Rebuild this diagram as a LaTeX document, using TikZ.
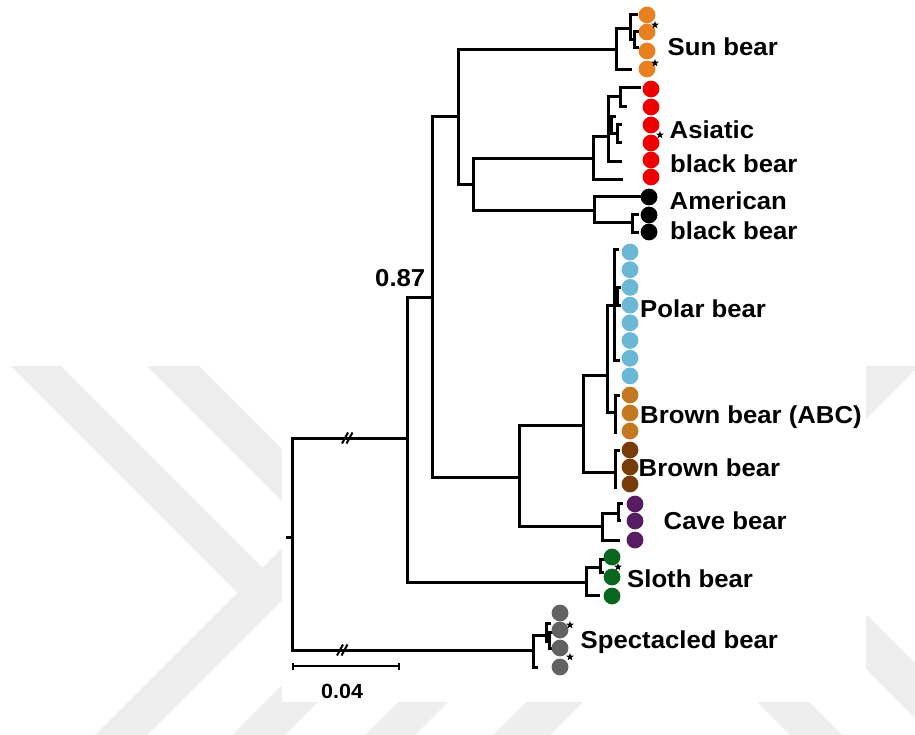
\documentclass[tikz,border=0pt]{standalone}
\usepackage{fontspec}
\setmainfont[FakeStretch=1.05]{Liberation Sans}
\usetikzlibrary{shapes.geometric}

\definecolor{wmgray}{RGB}{238,238,238}
\definecolor{sunc}{RGB}{233,128,32}
\definecolor{asiac}{RGB}{238,0,0}
\definecolor{amerc}{RGB}{0,0,0}
\definecolor{polarc}{RGB}{107,183,214}
\definecolor{abcc}{RGB}{196,120,34}
\definecolor{brownc}{RGB}{120,60,10}
\definecolor{cavec}{RGB}{88,28,98}
\definecolor{slothc}{RGB}{10,102,30}
\definecolor{spectc}{RGB}{98,98,98}

\begin{document}
\begin{tikzpicture}[x=1pt,y=-1pt,
  branch/.style={line width=3pt, line join=miter},
  brkmark/.style={line width=2pt},
  dot/.style={circle, draw=none, inner sep=0pt, minimum size=16.8pt},
  starmark/.style={star, star points=5, star point ratio=2.4, fill=black, draw=none, inner sep=0pt, minimum size=8pt},
  lab/.style={anchor=base west, inner sep=0pt, font=\fontsize{24.5}{29}\selectfont\bfseries},
  band/.style={fill=wmgray, draw=none}]

\useasboundingbox (0,0) rectangle (915,735);
\fill[white] (0,0) rectangle (915,735);

% faint chevron stripes in the background
\begin{scope}
  \clip (0,0) rectangle (915,735);
  \fill[band] (11,366) -- (61,366) -- (262.5,567.5) -- (237.5,592.5) -- cycle;
  \fill[band] (147,366) -- (199,366) -- (399,566) -- (347,566) -- cycle;
  \fill[band] (300,530) -- (300,582) -- (147,735) -- (95,735) -- cycle;
  \fill[band] (347,620) -- (400,620) -- (285,735) -- (232,735) -- cycle;
  \fill[band] (500,600) -- (550,600) -- (415,735) -- (365,735) -- cycle;
  \fill[band] (862,366) -- (919,366) -- (550,735) -- (493,735) -- cycle;
  \fill[band] (740,685) -- (792,685) -- (842,735) -- (790,735) -- cycle;
  \fill[band] (813,616) -- (868,616) -- (987,735) -- (932,735) -- cycle;
\end{scope}
\fill[white] (282,0) rectangle (866,702);

% ---- tree nodes ----
\coordinate (rootstub) at (286,537);
\coordinate (root) at (292,537);
\coordinate (n407) at (407,438);
\coordinate (spect) at (533,650);
\coordinate (n432) at (432,297);
\coordinate (sl0) at (586,582);
\coordinate (n458) at (458,117);
\coordinate (n519) at (519,477);
\coordinate (s0) at (616,50);
\coordinate (n473) at (473,185);
\coordinate (a0) at (593,159);
\coordinate (m0) at (594,211);
\coordinate (pb0) at (583,425);
\coordinate (cave0) at (602,526);
\coordinate (pb1) at (607,375);
\coordinate (brown0) at (615,472);
\coordinate (polar0) at (614,305);
\coordinate (abc0) at (615,412);
% sun bear
\coordinate (s1) at (630,29);
\coordinate (su4) at (632,70);
\coordinate (su1) at (638,15);
\coordinate (s2) at (634,40);
\coordinate (su2) at (639,32);
\coordinate (su3) at (639,48);
% asiatic black bear
\coordinate (a1) at (608,137);
\coordinate (as7) at (623,180);
\coordinate (a2) at (620,97);
\coordinate (a3) at (611,130);
\coordinate (as6) at (622,162);
\coordinate (as1) at (641,88);
\coordinate (as2) at (627,107);
\coordinate (as3) at (616,117);
\coordinate (a4) at (617,134);
\coordinate (as4) at (622,125);
\coordinate (as5) at (622,143);
% american black bear
\coordinate (am1) at (641,197);
\coordinate (m1) at (632,223);
\coordinate (am2) at (639,215);
\coordinate (am3) at (639,233);
% polar bear
\coordinate (po1) at (619,250);
\coordinate (p1) at (617,296);
\coordinate (po4) at (620,360);
\coordinate (po2) at (621,287);
\coordinate (po3) at (621,305);
% brown bears
\coordinate (ab1) at (620,395);
\coordinate (ab2) at (617,432);
\coordinate (br1) at (620,450);
\coordinate (br2) at (617,487);
% cave bear
\coordinate (c1) at (618,513);
\coordinate (cv3) at (620,540);
\coordinate (cv1) at (623,503);
\coordinate (cv2) at (621,520);
% sloth bear
\coordinate (sl1) at (600,567);
\coordinate (sh3) at (600,595);
\coordinate (sh1) at (606,559);
\coordinate (sh2) at (604,572);
% spectacled bear
\coordinate (sp1) at (546,635);
\coordinate (sp3) at (538,667);
\coordinate (sp2) at (549,641);
\coordinate (sc1) at (551,623);
\coordinate (sc2) at (553,632);
\coordinate (sc3) at (553,648);

% ---- branches ----
\draw[branch] (rootstub) -- (root);
\foreach \p/\c in {root/n407, root/spect, n407/n432, n407/sl0, n432/n458, n432/n519,
    n458/s0, n458/n473, n473/a0, n473/m0, s0/s1, s0/su4, s1/su1, s1/s2, s2/su2, s2/su3,
    a0/a1, a0/as7, a1/a2, a1/a3, a1/as6, a2/as1, a2/as2, a3/as3, a3/a4, a4/as4, a4/as5,
    m0/am1, m0/m1, m1/am2, m1/am3, n519/pb0, n519/cave0, pb0/pb1, pb0/brown0,
    pb1/polar0, pb1/abc0, polar0/po1, polar0/p1, polar0/po4, p1/po2, p1/po3,
    abc0/ab1, abc0/ab2, brown0/br1, brown0/br2, cave0/c1, cave0/cv3, c1/cv1, c1/cv2,
    sl0/sl1, sl0/sh3, sl1/sh1, sl1/sh2, spect/sp1, spect/sp3, sp1/sc1, sp1/sp2, sp2/sc2, sp2/sc3}
  \draw[branch] (\p) |- (\c);

% break marks on the two long branches
\coordinate (brkA) at (347,438);
\coordinate (brkB) at (342,650);
\foreach \b in {brkA, brkB} {
  \draw[brkmark] ([xshift=-5pt,yshift=-5.5pt]\b) -- ([xshift=1pt,yshift=5.5pt]\b);
  \draw[brkmark] ([xshift=-0.5pt,yshift=-5.5pt]\b) -- ([xshift=5.5pt,yshift=5.5pt]\b);
}

% scale bar
\coordinate (sb0) at (293,666);
\coordinate (sb1) at (399,666);
\draw[line width=2.8pt] (sb0) -- (sb1);
\draw[line width=2pt] ([yshift=-3.5pt]sb0) -- ([yshift=3.5pt]sb0);
\draw[line width=2pt] ([yshift=-3.5pt]sb1) -- ([yshift=3.5pt]sb1);

% ---- tip markers ----
\foreach \y [count=\i] in {15,32,51,69}
  \node[dot, fill=sunc] (sund\i) at (647,\y) {};
\foreach \y [count=\i] in {89,107,125,143,160,177}
  \node[dot, fill=asiac] (asid\i) at (651,\y) {};
\foreach \y [count=\i] in {197,215,232}
  \node[dot, fill=amerc] (amed\i) at (649,\y) {};
\foreach \i in {0,...,7}
  \node[dot, fill=polarc] (pold\i) at (630,{252+17.7*\i}) {};
\foreach \y [count=\i] in {395,413,431}
  \node[dot, fill=abcc] (abcd\i) at (630,\y) {};
\foreach \y [count=\i] in {450,467,484}
  \node[dot, fill=brownc] (brod\i) at (630,\y) {};
\foreach \y [count=\i] in {504,521,540}
  \node[dot, fill=cavec] (caved\i) at (635,\y) {};
\foreach \y [count=\i] in {557,577,596}
  \node[dot, fill=slothc] (slod\i) at (612,\y) {};
\foreach \y [count=\i] in {613,630,648,667}
  \node[dot, fill=spectc] (sped\i) at (560,\y) {};

\node[starmark] (st1) at (655,25) {};
\node[starmark] (st2) at (655,63) {};
\node[starmark] (st3) at (660,135) {};
\node[starmark] (st4) at (618,567) {};
\node[starmark] (st5) at (570,625) {};
\node[starmark] (st6) at (570,657) {};

% ---- labels ----
\node[lab] (lsun) at (667.5,56) {Sun bear};
\node[lab] (lasia1) at (669.5,139) {Asiatic};
\node[lab] (lasia2) at (670,173) {black bear};
\node[lab] (lamer1) at (669.5,210) {American};
\node[lab] (lamer2) at (670,240) {black bear};
\node[lab] (lpolar) at (640,317) {Polar bear};
\node[lab] (labc) at (640,423) {Brown bear (ABC)};
\node[lab] (lbrown) at (638.5,476) {Brown bear};
\node[lab] (lcave) at (663.5,529) {Cave bear};
\node[lab] (lsloth) at (627,587) {Sloth bear};
\node[lab] (lspect) at (580.5,648) {Spectacled bear};
\node[lab] (lsupport) at (375,287) {0.87};
\node[lab, font=\fontsize{20.5}{24}\selectfont\bfseries] (lscale) at (321,698) {0.04};
\end{tikzpicture}
\end{document}
